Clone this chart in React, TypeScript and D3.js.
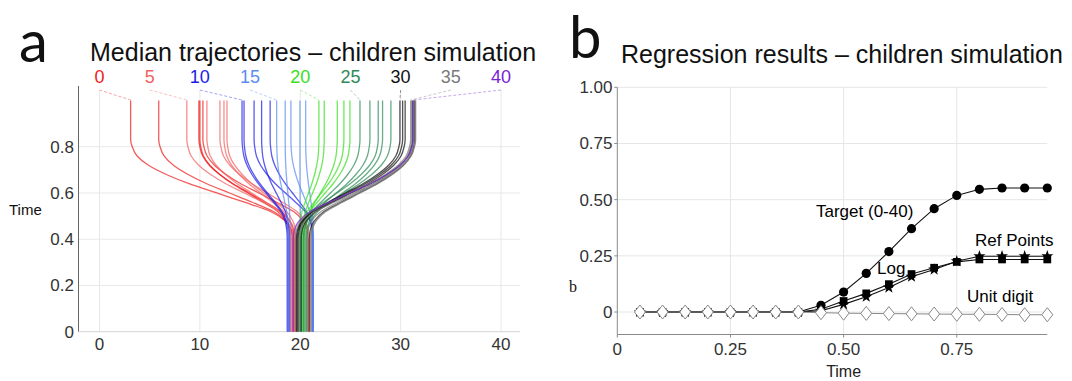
import React from "react";
import * as d3 from "d3";

// ---------- Panel a: median trajectories ----------
const targetNumbers = [0, 1, 2, 3, 4, 5, 6, 7, 8, 9, 10, 11, 12, 13, 14, 15, 16, 17, 18, 19, 20,
  21, 22, 23, 24, 25, 26, 27, 28, 29, 30, 31, 32, 33, 34, 35, 36, 37, 38, 39, 40];

// position on the number line at time 0 (all start near the middle)
const startPositions = [19.3, 19.2, 19.4, 19.0, 20.8, 19.5, 19.1, 20.9, 19.3, 19.6,
  18.7, 18.8, 21.3, 18.9, 21.2, 18.8, 19.0, 21.25, 20.0, 21.3,
  19.9, 20.2, 20.5, 20.1, 20.3, 20.4, 20.6, 20.0, 20.7, 20.3,
  19.7, 19.8, 20.1, 19.6, 20.9, 19.5, 21.0, 19.9, 20.6, 21.1, 19.3];

// final position reached at time 1
const endPositions = [3.1, 5.9, 9.9, 10.0, 10.3, 8.7, 10.7, 12.0, 12.4, 12.7,
  14.2, 14.4, 15.4, 16.15, 17.0, 17.65, 18.5, 19.07, 19.97, 20.54,
  21.86, 22.39, 23.69, 24.35, 24.95, 25.95, 26.94, 27.77, 28.2, 29.03,
  29.93, 30.2, 30.45, 31.2, 31.4, 31.0, 31.3, 31.5, 31.1, 31.45, 31.25];

// shared median movement profile: share of the distance covered at each time
const profileTime = [0, 0.40, 0.44, 0.48, 0.52, 0.56, 0.60, 0.64, 0.68, 0.72, 0.76, 0.80, 0.83, 1.0];
const profileShare = [0, 0, 0.01, 0.05, 0.14, 0.30, 0.47, 0.64, 0.78, 0.89, 0.96, 0.99, 1, 1];

const groupLabels = ["0", "5", "10", "15", "20", "25", "30", "35", "40"];
const groupColors = ["#ee1c1c", "#f26262", "#1c1ce6", "#5b8cf2", "#36e01c", "#2e8b57", "#111111", "#7a7a7a", "#7a22d6"];

const xTicksA = [0, 10, 20, 30, 40];
const yTicksA = [0, 0.2, 0.4, 0.6, 0.8];

// ---------- Panel b: regression results ----------
const timeB = [0.05, 0.10, 0.15, 0.20, 0.25, 0.30, 0.35, 0.40, 0.45, 0.50,
  0.55, 0.60, 0.65, 0.70, 0.75, 0.80, 0.85, 0.90, 0.95];
const targetB = [0, 0, 0, 0, 0, 0, 0, 0, 0.03, 0.089, 0.172, 0.269, 0.371, 0.46, 0.519, 0.546, 0.552, 0.552, 0.552];
const logB = [0, 0, 0, 0, 0, 0, 0, 0, 0.012, 0.049, 0.083, 0.124, 0.169, 0.197, 0.223, 0.234, 0.234, 0.234, 0.234];
const refPointsB = [0, 0, 0, 0, 0, 0, 0, 0, 0.006, 0.034, 0.068, 0.109, 0.157, 0.189, 0.226, 0.248, 0.248, 0.248, 0.248];
const unitDigitB = [0, 0, 0, 0, 0, 0, 0, 0, -0.003, -0.005, -0.006, -0.007, -0.008, -0.009, -0.01, -0.01, -0.011, -0.012, -0.012];

const xTicksB = [0, 0.25, 0.5, 0.75];
const xTickLabelsB = ["0", "0.25", "0.50", "0.75"];
const yTicksB = [0, 0.25, 0.5, 0.75, 1.0];
const yTickLabelsB = ["0", "0.25", "0.50", "0.75", "1.00"];

const FONT = "'Liberation Sans', Arial, Helvetica, sans-serif";

export default function App() {
  // scales, panel a
  const xA = d3.scaleLinear().domain([0, 40]).range([99.5, 501]);
  const yA = d3.scaleLinear().domain([0, 1]).range([331.7, 100.5]);
  const axisLeftA = 78.5;
  const axisRightA = 520;
  const topA = 86;

  const trajLine = d3
    .line<[number, number]>()
    .x((d) => xA(d[0]))
    .y((d) => yA(d[1]))
    .curve(d3.curveMonotoneY);

  const trajectories = targetNumbers.map((n, i) => {
    const s = startPositions[i];
    const e = endPositions[i];
    const pts: [number, number][] = profileTime
      .map((t, k) => [s + (e - s) * profileShare[k], t] as [number, number])
      .reverse();
    return { n, path: trajLine(pts) as string, color: groupColors[Math.floor(n / 5)] };
  });

  // scales, panel b
  const xB = d3.scaleLinear().domain([0, 0.95]).range([617.3, 1047.3]);
  const yB = d3.scaleLinear().domain([-0.1, 1.0]).range([334.5, 87.3]);
  const lineB = d3
    .line<number>()
    .x((_, i) => xB(timeB[i]))
    .y((d) => yB(d));

  const star = d3.symbol().type(d3.symbolStar).size(45)() as string;
  const square = d3.symbol().type(d3.symbolSquare).size(60)() as string;
  const diamond = "M0,-7L5.5,0L0,7L-5.5,0Z";

  return (
    <svg
      width={1072}
      height={381}
      style={{ position: "absolute", left: 0, top: 0, background: "#fff" }}
      fontFamily={FONT}
    >
      <rect x={0} y={0} width={1072} height={381} fill="#fff" />

      {/* ===== Panel a ===== */}
      <text x={19} y={62} fontFamily="Lato, 'Open Sans', sans-serif" fontSize={58} fill="#111">a</text>
      <text x={90} y={61} fontSize={25} fill="#111">Median trajectories – children simulation</text>

      {/* grid */}
      {xTicksA.map((v) => (
        <line key={`gxa${v}`} x1={xA(v)} x2={xA(v)} y1={topA + 4} y2={331.7} stroke="#e8e8e8" strokeWidth={1} />
      ))}
      {yTicksA.filter((v) => v > 0).map((v) => (
        <line key={`gya${v}`} x1={axisLeftA} x2={axisRightA} y1={yA(v)} y2={yA(v)} stroke="#e8e8e8" strokeWidth={1} />
      ))}

      {/* axes */}
      <line x1={axisLeftA} x2={axisLeftA} y1={topA} y2={331.7} stroke="#666" strokeWidth={1} />
      <line x1={axisLeftA} x2={axisRightA} y1={331.7} y2={331.7} stroke="#d4d4d4" strokeWidth={1} />

      {yTicksA.map((v) => (
        <text key={`yla${v}`} x={74} y={yA(v) + 6} fontSize={17} textAnchor="end" fill="#333">
          {v === 0 ? "0" : v.toFixed(1)}
        </text>
      ))}
      {xTicksA.map((v) => (
        <text key={`xla${v}`} x={xA(v)} y={350} fontSize={17} textAnchor="middle" fill="#333">
          {v}
        </text>
      ))}
      <text x={9} y={215} fontSize={15} fill="#111">Time</text>

      {/* target labels and connectors to the final positions */}
      {groupLabels.map((lab, g) => {
        const n = Number(lab);
        return (
          <g key={`lab${lab}`}>
            <line
              x1={xA(n)}
              y1={90}
              x2={xA(endPositions[n])}
              y2={100}
              stroke={groupColors[g]}
              strokeOpacity={0.45}
              strokeWidth={0.9}
              strokeDasharray="3,2"
            />
            <text x={xA(n)} y={83} fontSize={18} textAnchor="middle" fill={groupColors[g]}>
              {lab}
            </text>
          </g>
        );
      })}

      {/* trajectories */}
      {trajectories.map((t) => (
        <path
          key={`tr${t.n}`}
          d={t.path}
          fill="none"
          stroke={t.color}
          strokeOpacity={0.72}
          strokeWidth={1.3}
        />
      ))}

      {/* ===== Panel b ===== */}
      <text x={569} y={58} fontFamily="Lato, 'Open Sans', sans-serif" fontSize={58} fill="#111">b</text>
      <text x={621} y={63} fontSize={25} fill="#111">Regression results – children simulation</text>

      {/* grid */}
      {xTicksB.filter((v) => v > 0).map((v) => (
        <line key={`gxb${v}`} x1={xB(v)} x2={xB(v)} y1={yB(1)} y2={yB(-0.1)} stroke="#e6e6e6" strokeWidth={1} />
      ))}
      {yTicksB.map((v) => (
        <line key={`gyb${v}`} x1={xB(0)} x2={xB(0.95)} y1={yB(v)} y2={yB(v)} stroke="#e6e6e6" strokeWidth={1} />
      ))}

      {/* axes */}
      <line x1={xB(0)} x2={xB(0)} y1={yB(1)} y2={yB(-0.1)} stroke="#8a8a8a" strokeWidth={1} />
      <line x1={xB(0)} x2={xB(0.95)} y1={yB(-0.1)} y2={yB(-0.1)} stroke="#8a8a8a" strokeWidth={1} />
      {yTicksB.map((v) => (
        <line key={`ytb${v}`} x1={xB(0) - 3} x2={xB(0)} y1={yB(v)} y2={yB(v)} stroke="#8a8a8a" />
      ))}
      {xTicksB.map((v) => (
        <line key={`xtb${v}`} x1={xB(v)} x2={xB(v)} y1={yB(-0.1)} y2={yB(-0.1) + 3} stroke="#8a8a8a" />
      ))}

      {yTicksB.map((v, i) => (
        <text key={`ylb${v}`} x={612.5} y={yB(v) + 6} fontSize={17} textAnchor="end" fill="#333">
          {yTickLabelsB[i]}
        </text>
      ))}
      {xTicksB.map((v, i) => (
        <text key={`xlb${v}`} x={xB(v)} y={355} fontSize={17} textAnchor="middle" fill="#333">
          {xTickLabelsB[i]}
        </text>
      ))}
      <text x={xB(0.5)} y={377} fontSize={16} textAnchor="middle" fill="#222">Time</text>
      <text x={569} y={292} fontFamily="'Liberation Serif', 'Times New Roman', serif" fontSize={16} fill="#111">b</text>

      {/* series lines */}
      <path d={lineB(targetB) as string} fill="none" stroke="#111" strokeWidth={1.1} />
      <path d={lineB(logB) as string} fill="none" stroke="#111" strokeWidth={1.1} />
      <path d={lineB(refPointsB) as string} fill="none" stroke="#111" strokeWidth={1.1} />
      <path d={lineB(unitDigitB) as string} fill="none" stroke="#888" strokeWidth={1} />

      {/* markers */}
      {targetB.map((v, i) => (
        <circle key={`c${i}`} cx={xB(timeB[i])} cy={yB(v)} r={4.6} fill="#000" />
      ))}
      {logB.map((v, i) => (
        <path key={`s${i}`} d={square} transform={`translate(${xB(timeB[i])},${yB(v)})`} fill="#000" />
      ))}
      {refPointsB.map((v, i) => (
        <path key={`st${i}`} d={star} transform={`translate(${xB(timeB[i])},${yB(v)})`} fill="#000" />
      ))}
      {unitDigitB.map((v, i) => (
        <path
          key={`d${i}`}
          d={diamond}
          transform={`translate(${xB(timeB[i])},${yB(v)})`}
          fill="#fff"
          stroke="#888"
          strokeWidth={1}
        />
      ))}

      {/* series labels */}
      <text x={816} y={217} fontSize={17} fill="#000">Target (0-40)</text>
      <text x={975} y={246} fontSize={17} fill="#000">Ref Points</text>
      <text x={877} y={274} fontSize={17} fill="#000">Log</text>
      <text x={967} y={302} fontSize={17} fill="#000">Unit digit</text>
    </svg>
  );
}
